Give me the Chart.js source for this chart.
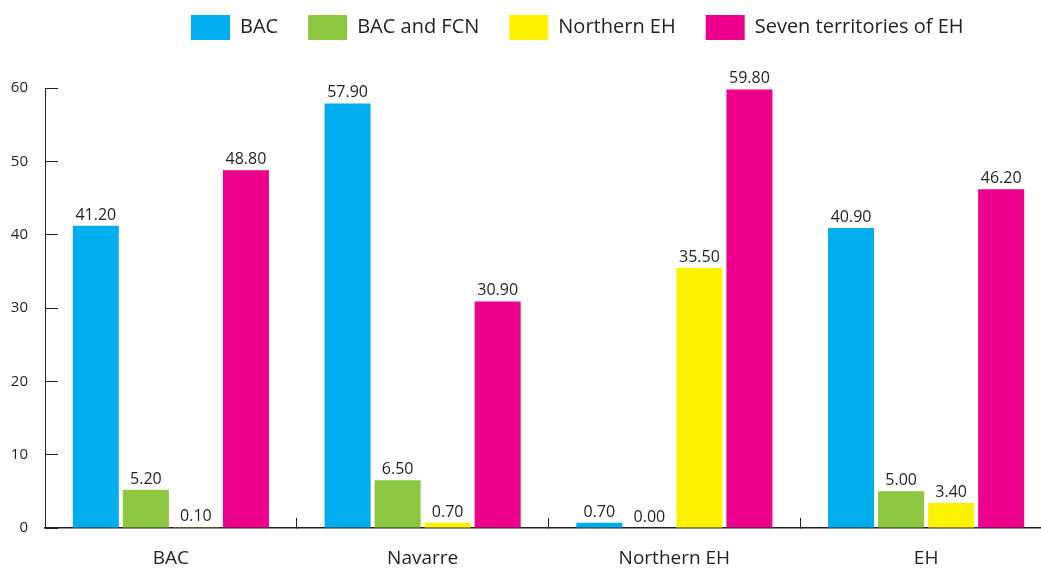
<!DOCTYPE html>
<html>
<head>
<meta charset="utf-8">
<title>Population by territory</title>
<script src="https://cdn.jsdelivr.net/npm/chart.js@4/dist/chart.umd.min.js"></script>
<style>
  html, body { margin: 0; padding: 0; background: #ffffff; overflow: hidden; }
  #wrap { width: 1052px; height: 568px; }
</style>
</head>
<body>
<div id="wrap"><canvas id="chart" width="1052" height="568"></canvas></div>
<script>
// Categories along the x axis
const categories = ['BAC', 'Navarre', 'Northern EH', 'EH'];

// One series per legend entry, values in category order
const seriesNames = ['BAC', 'BAC and FCN', 'Northern EH', 'Seven territories of EH'];
const bacValues = [41.20, 57.90, 0.70, 40.90];
const bacFcnValues = [5.20, 6.50, 0.00, 5.00];
const northernEhValues = [0.10, 0.70, 35.50, 3.40];
const sevenTerritoriesValues = [48.80, 30.90, 59.80, 46.20];

// Value axis range and step
const yMin = 0;
const yMax = 60;
const yStep = 10;

const seriesColors = ['#00AEEF', '#8DC63F', '#FFF200', '#EC008C'];
const inkColor = '#231F20';
const fontFamily = '"Open Sans", "Noto Sans", sans-serif';

const seriesValues = [bacValues, bacFcnValues, northernEhValues, sevenTerritoriesValues];

// Writes each bar's value above it
const valueLabels = {
  id: 'valueLabels',
  afterDatasetsDraw(chart) {
    const ctx = chart.ctx;
    ctx.save();
    ctx.font = '16px ' + fontFamily;
    ctx.fillStyle = inkColor;
    ctx.textAlign = 'center';
    ctx.textBaseline = 'alphabetic';
    chart.data.datasets.forEach((ds, di) => {
      const meta = chart.getDatasetMeta(di);
      meta.data.forEach((bar, i) => {
        ctx.fillText(ds.data[i].toFixed(2), bar.x, bar.y - 6);
      });
    });
    ctx.restore();
  }
};

// Places the legend row toward the top-right of the header band
const legendPlacement = {
  id: 'legendPlacement',
  afterLayout(chart) {
    const legend = chart.legend;
    if (!legend) return;
    legend.left += 161;
    legend.right += 161;
    legend.top -= 38;
    legend.bottom -= 38;
  }
};

new Chart(document.getElementById('chart'), {
  type: 'bar',
  data: {
    labels: categories,
    datasets: seriesNames.map((name, i) => ({
      label: name,
      data: seriesValues[i],
      backgroundColor: seriesColors[i],
      borderWidth: 0,
      categoryPercentage: 0.795,
      barPercentage: 0.92
    }))
  },
  options: {
    responsive: false,
    animation: false,
    devicePixelRatio: 1,
    layout: { padding: { top: 23, left: 0, right: 0, bottom: 0 } },
    plugins: {
      legend: {
        position: 'top',
        align: 'start',
        labels: {
          boxWidth: 39,
          boxHeight: 25,
          padding: 30,
          color: inkColor,
          font: { family: fontFamily, size: 20 }
        }
      },
      tooltip: { enabled: false }
    },
    scales: {
      x: {
        grid: {
          display: true,
          drawOnChartArea: false,
          drawTicks: true,
          tickLength: -10,
          offset: true,
          color: inkColor,
          lineWidth: 1
        },
        border: { display: true, color: inkColor, width: 1.5 },
        ticks: {
          color: inkColor,
          padding: 29,
          font: { family: fontFamily, size: 19 }
        },
        afterFit(scale) { scale.height = 40; }
      },
      y: {
        min: yMin,
        max: yMax,
        grid: {
          display: true,
          drawOnChartArea: false,
          drawTicks: true,
          tickLength: -13,
          color: inkColor,
          lineWidth: 1
        },
        border: { display: true, color: inkColor, width: 1 },
        ticks: {
          stepSize: yStep,
          color: inkColor,
          padding: 30,
          font: { family: fontFamily, size: 15 }
        },
        afterFit(scale) { scale.width = 45; }
      }
    }
  },
  plugins: [valueLabels, legendPlacement]
});
</script>
</body>
</html>
